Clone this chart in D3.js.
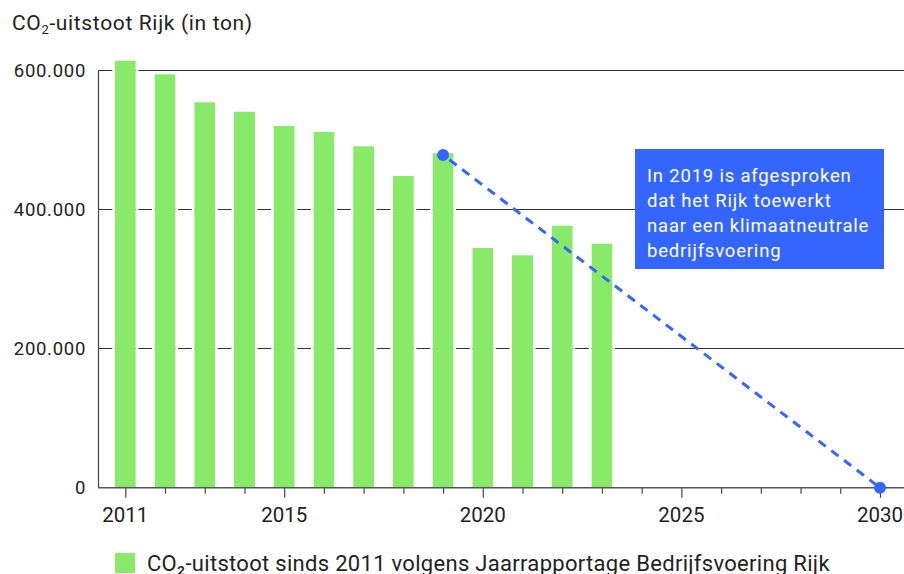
<!DOCTYPE html>
<html>
<head>
<meta charset="utf-8">
<script src="https://cdn.jsdelivr.net/npm/d3@7"></script>
<style>
  body { margin: 0; background: #fff; }
  svg { font-family: Roboto, "Noto Sans", sans-serif; }
</style>
</head>
<body>
<div id="chart"></div>
<script>
// data
const years = [2011, 2012, 2013, 2014, 2015, 2016, 2017, 2018, 2019, 2020, 2021, 2022, 2023];
const emissions = [613400, 593800, 553600, 540000, 519600, 511000, 490400, 447700, 480400, 344300, 333800, 376300, 350500];
const targetYears = [2019, 2030];
const targetValues = [478000, 0];
const yTicks = [0, 200000, 400000, 600000];
const xTicks = [2011, 2015, 2020, 2025, 2030];
const noteLines = ["In 2019 is afgesproken", "dat het Rijk toewerkt", "naar een klimaatneutrale", "bedrijfsvoering"];
const legendLabel = "CO\u2082-uitstoot sinds 2011 volgens Jaarrapportage Bedrijfsvoering Rijk";

const width = 904, height = 574;
const green = "#89ea69", blue = "#3466ff";

const svg = d3.select("#chart").append("svg")
  .attr("width", width)
  .attr("height", height);

const x = d3.scaleLinear().domain([2011, 2030]).range([125.3, 880]);
const y = d3.scaleLinear().domain([0, 600000]).range([487.7, 70]);
const axisLeft = 98;

const fmt = d => d3.format(",")(d).replace(/,/g, ".");

// gridlines
svg.append("g")
  .selectAll("line")
  .data(yTicks.filter(d => d > 0))
  .join("line")
  .attr("x1", axisLeft).attr("x2", width)
  .attr("y1", d => Math.round(y(d)) + 0.5).attr("y2", d => Math.round(y(d)) + 0.5)
  .attr("stroke", "#333").attr("stroke-width", 1);

// y labels
svg.append("g")
  .selectAll("text")
  .data(yTicks)
  .join("text")
  .attr("x", 86)
  .attr("y", d => y(d) + 6.5)
  .attr("text-anchor", "end")
  .attr("font-size", 18.5)
  .attr("letter-spacing", 0.7)
  .attr("fill", "#222")
  .text(fmt);

// bars
const barW = 21;
svg.append("g")
  .selectAll("rect")
  .data(years)
  .join("rect")
  .attr("x", (d) => x(d) - barW / 2)
  .attr("y", (d, i) => y(emissions[i]))
  .attr("width", barW)
  .attr("height", (d, i) => y(0) - y(emissions[i]))
  .attr("fill", green);

// white gaps around bars on gridlines
[-barW / 2 - 2.5, barW / 2].forEach(off => {
  svg.append("g")
    .selectAll("rect")
    .data(years)
    .join("rect")
    .attr("x", (d) => x(d) + off)
    .attr("y", (d, i) => y(emissions[i]))
    .attr("width", 2.5)
    .attr("height", (d, i) => y(0) - y(emissions[i]) - 1)
    .attr("fill", "#fff");
});

// y axis line
svg.append("line")
  .attr("x1", axisLeft + 0.5).attr("x2", axisLeft + 0.5)
  .attr("y1", y(600000)).attr("y2", y(0))
  .attr("stroke", "#444").attr("stroke-width", 1.2);

// x axis
const xAxis = d3.axisBottom(x)
  .tickValues(d3.range(2011, 2031))
  .tickSize(6)
  .tickFormat("");
const gx = svg.append("g")
  .attr("transform", `translate(0,${y(0)})`)
  .call(xAxis);
gx.select(".domain").remove();
gx.selectAll(".tick line").attr("stroke", "#444").attr("stroke-width", 1.2)
  .attr("y2", d => xTicks.includes(d) ? 10 : 6);
svg.append("line")
  .attr("x1", axisLeft).attr("x2", width)
  .attr("y1", y(0)).attr("y2", y(0))
  .attr("stroke", "#555").attr("stroke-width", 1.5);

svg.append("g")
  .selectAll("text")
  .data(xTicks)
  .join("text")
  .attr("x", d => x(d))
  .attr("y", 522)
  .attr("text-anchor", "middle")
  .attr("font-size", 20.5)
  .attr("fill", "#222")
  .text(d => d);

// target line
const line = d3.line().x(d => x(d[0])).y(d => y(d[1]));
const pts = targetYears.map((d, i) => [d, targetValues[i]]);
svg.append("path")
  .datum(pts)
  .attr("d", line)
  .attr("fill", "none")
  .attr("stroke", blue)
  .attr("stroke-width", 3)
  .attr("stroke-dasharray", "9,7")
  .attr("stroke-dashoffset", -8);
svg.append("g")
  .selectAll("circle")
  .data(pts)
  .join("circle")
  .attr("cx", d => x(d[0]))
  .attr("cy", d => y(d[1]))
  .attr("r", 6)
  .attr("fill", blue);

// annotation box
const note = svg.append("g").attr("transform", "translate(635,149)");
note.append("rect")
  .attr("width", 249).attr("height", 120)
  .attr("fill", blue);
note.selectAll("text")
  .data(noteLines)
  .join("text")
  .attr("x", 12)
  .attr("y", (d, i) => 33 + i * 25)
  .attr("font-size", 18.5)
  .attr("letter-spacing", 0.8)
  .attr("fill", "#fff")
  .text(d => d);

// title
const title = svg.append("text")
  .attr("x", 12).attr("y", 30)
  .attr("font-size", 21)
  .attr("letter-spacing", 0.65)
  .attr("fill", "#222");
title.append("tspan").text("CO");
title.append("tspan").attr("font-size", 13).attr("dy", 4).text("2");
title.append("tspan").attr("dy", -4).text("-uitstoot Rijk (in ton)");

// legend
svg.append("rect")
  .attr("x", 115).attr("y", 553)
  .attr("width", 20).attr("height", 20)
  .attr("fill", green);
svg.append("text")
  .attr("x", 147).attr("y", 570.5)
  .attr("font-size", 22)
  .attr("letter-spacing", 0.3)
  .attr("fill", "#222")
  .text(legendLabel);
</script>
</body>
</html>
